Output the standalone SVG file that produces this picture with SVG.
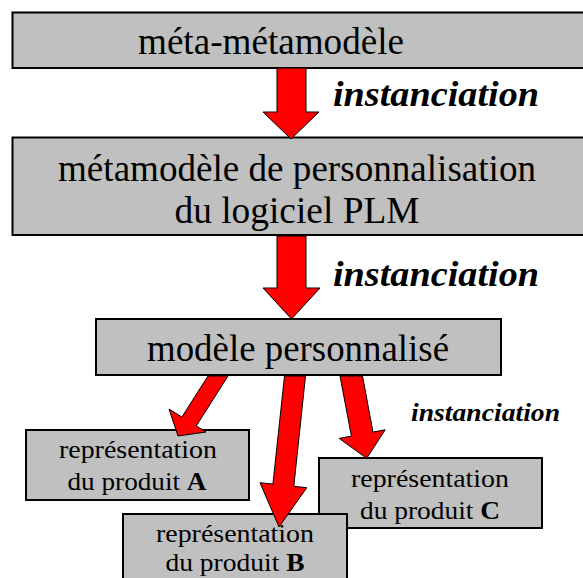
<svg xmlns="http://www.w3.org/2000/svg" width="583" height="578" viewBox="0 0 583 578">
<style>
.box{fill:#C0C0C0;stroke:#000;stroke-width:2}
.arr{fill:#FF0000;stroke:#000;stroke-width:1;stroke-linejoin:miter}
.t{fill:#000;text-anchor:middle}
.lab{font-weight:bold;font-style:italic;fill:#000}
</style>
<rect width="583" height="578" fill="#fff"/>
<g id="n1">
<rect class="box" x="12.5" y="12.5" width="580" height="55.5"/>
<text class="t" font-family="'Liberation Serif', 'Times New Roman', serif" x="271" y="54" font-size="37" textLength="266" lengthAdjust="spacingAndGlyphs">méta-métamodèle</text>
</g>
<g id="n2">
<rect class="box" x="12.5" y="137.5" width="580" height="97.5"/>
<text class="t" font-family="'Liberation Serif', 'Times New Roman', serif" x="297" y="181" font-size="38" textLength="478" lengthAdjust="spacingAndGlyphs">métamodèle de personnalisation</text>
<text class="t" font-family="'Liberation Serif', 'Times New Roman', serif" x="297" y="223" font-size="38" textLength="245" lengthAdjust="spacingAndGlyphs">du logiciel PLM</text>
</g>
<g id="n3">
<rect class="box" x="96" y="319" width="405" height="56"/>
<text class="t" font-family="'Liberation Serif', 'Times New Roman', serif" x="298" y="361" font-size="38" textLength="302" lengthAdjust="spacingAndGlyphs">modèle personnalisé</text>
</g>
<g id="nA">
<rect class="box" x="26" y="430" width="223" height="70"/>
<text class="t" font-family="'Liberation Serif', 'Times New Roman', serif" x="138" y="458" font-size="26" textLength="158" lengthAdjust="spacingAndGlyphs">représentation</text>
<text class="t" font-family="'Liberation Serif', 'Times New Roman', serif" x="137" y="490" font-size="26" textLength="139" lengthAdjust="spacingAndGlyphs">du produit <tspan font-weight="bold">A</tspan></text>
</g>
<g id="nC">
<rect class="box" x="319" y="458" width="223" height="70"/>
<text class="t" font-family="'Liberation Serif', 'Times New Roman', serif" x="430" y="487" font-size="26" textLength="158" lengthAdjust="spacingAndGlyphs">représentation</text>
<text class="t" font-family="'Liberation Serif', 'Times New Roman', serif" x="430" y="519" font-size="26" textLength="140" lengthAdjust="spacingAndGlyphs">du produit <tspan font-weight="bold">C</tspan></text>
</g>
<g id="nB">
<rect class="box" x="123" y="514" width="224" height="80"/>
<text class="t" font-family="'Liberation Serif', 'Times New Roman', serif" x="235" y="542" font-size="25" textLength="158" lengthAdjust="spacingAndGlyphs">représentation</text>
<text class="t" font-family="'Liberation Serif', 'Times New Roman', serif" x="235" y="571" font-size="25" textLength="139" lengthAdjust="spacingAndGlyphs">du produit <tspan font-weight="bold">B</tspan></text>
</g>
<g id="connectors">
<polygon class="arr" points="277,68 277,112 263,112 291,139 319,112 306,112 306,68"/>
<polygon class="arr" points="277,236 277,288 263,288 291.5,319 320,288 306,288 306,236"/>
<polygon class="arr" points="208,376 181.9,417 169,409 178,436 206,432 196.3,425.9 228,376"/>
<polygon class="arr" points="284.5,376 272.9,484.1 260,482.7 279,527 306.8,487.7 293.8,486.3 305.5,376"/>
<polygon class="arr" points="340,376 351.4,436.1 339.2,438.4 366.7,458.3 385.2,429.8 373,432.1 362.5,376"/>
<text class="lab" font-family="'Liberation Serif', 'Times New Roman', serif" x="333" y="106" font-size="35" textLength="206" lengthAdjust="spacingAndGlyphs">instanciation</text>
<text class="lab" font-family="'Liberation Serif', 'Times New Roman', serif" x="333" y="286" font-size="35" textLength="206" lengthAdjust="spacingAndGlyphs">instanciation</text>
<text class="lab" font-family="'Liberation Serif', 'Times New Roman', serif" x="411" y="421" font-size="25" textLength="149" lengthAdjust="spacingAndGlyphs">instanciation</text>
</g>
</svg>
